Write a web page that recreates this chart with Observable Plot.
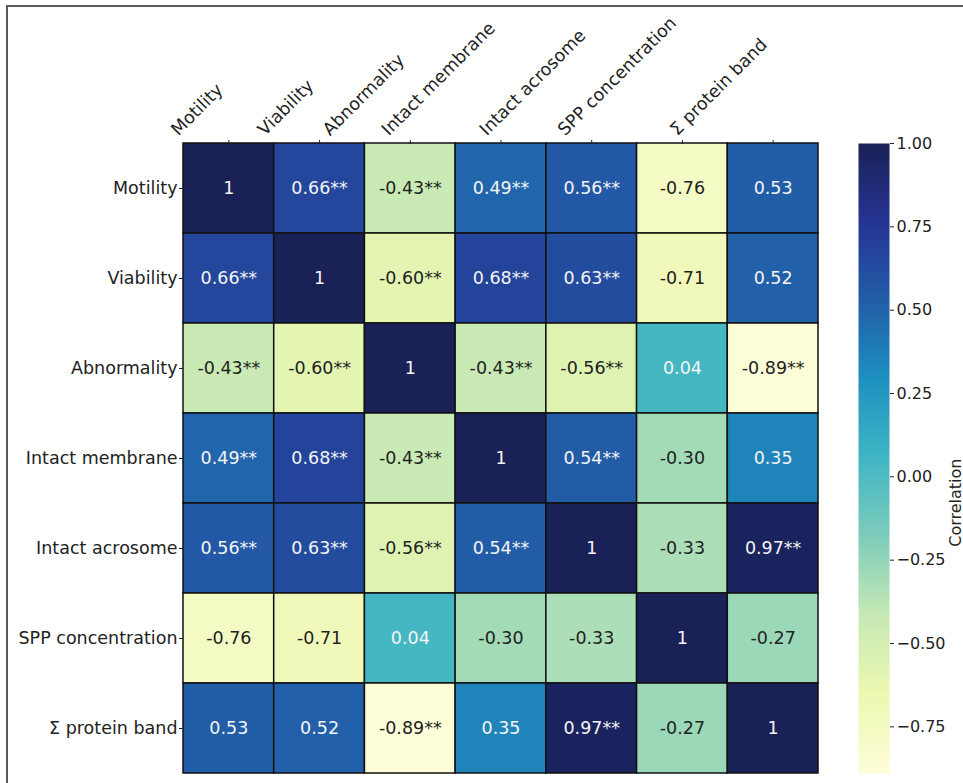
<!DOCTYPE html>
<html>
<head>
<meta charset="utf-8">
<script src="https://cdn.jsdelivr.net/npm/d3@7"></script>
<script src="https://cdn.jsdelivr.net/npm/@observablehq/plot@0.6"></script>
<style>
  html, body { margin: 0; padding: 0; background: #fff; overflow: hidden; }
  #wrap { position: relative; width: 963px; height: 783px; }
  #wrap svg { position: absolute; left: 0; top: 0; }
  #frame { position: absolute; left: 6px; top: 5px; width: 1200px; height: 1200px;
           border: 2px solid #5a5a5a; pointer-events: none; }
</style>
</head>
<body>
<div id="wrap"></div>
<script>
// Variables, in matrix order (rows top to bottom, columns left to right)
const variables = ["Motility", "Viability", "Abnormality", "Intact membrane",
                   "Intact acrosome", "SPP concentration", "Σ protein band"];

// Pearson correlation coefficients
const correlations = [
  [ 1.00,  0.66, -0.43,  0.49,  0.56, -0.76,  0.53],
  [ 0.66,  1.00, -0.60,  0.68,  0.63, -0.71,  0.52],
  [-0.43, -0.60,  1.00, -0.43, -0.56,  0.04, -0.89],
  [ 0.49,  0.68, -0.43,  1.00,  0.54, -0.30,  0.35],
  [ 0.56,  0.63, -0.56,  0.54,  1.00, -0.33,  0.97],
  [-0.76, -0.71,  0.04, -0.30, -0.33,  1.00, -0.27],
  [ 0.53,  0.52, -0.89,  0.35,  0.97, -0.27,  1.00]
];

// Significance markers
const significance = [
  ["",   "**", "**", "**", "**", "",   ""  ],
  ["**", "",   "**", "**", "**", "",   ""  ],
  ["**", "**", "",   "**", "**", "",   "**"],
  ["**", "**", "**", "",   "**", "",   ""  ],
  ["**", "**", "**", "**", "",   "",   "**"],
  ["",   "",   "",   "",   "",   "",   ""  ],
  ["",   "",   "**", "",   "**", "",   ""  ]
];

// Colour bar ticks and value range
const colorbarTicks = [-0.75, -0.5, -0.25, 0, 0.25, 0.5, 0.75, 1];
const vmin = -0.89, vmax = 1;

// YlGnBu stops, interpolated linearly across the value range
const ylgnbu = ["#fdfdd8", "#edf8b1", "#c7e9b4", "#7fcdbb", "#41b6c4",
                "#1d91c0", "#225ea8", "#253494", "#1a2156"];
const colorScale = {
  type: "linear",
  domain: ylgnbu.map((_, i) => vmin + (i * (vmax - vmin)) / (ylgnbu.length - 1)),
  range: ylgnbu,
  interpolate: "rgb"
};

const cells = variables.flatMap((row, i) =>
  variables.map((col, j) => ({row, col, v: correlations[i][j], sig: significance[i][j]}))
);
const fmt = v => (v === 1 ? "1" : v.toFixed(2));

const font = "DejaVu Sans";
const ctx = document.createElement("canvas").getContext("2d");
ctx.font = `17.5px '${font}'`;
const textWidth = s => ctx.measureText(s).width;

const svgStyle = {background: "transparent", fontFamily: font, color: "#222", overflow: "visible"};

// Heatmap
const heatmap = Plot.plot({
  width: 963, height: 783,
  marginLeft: 183, marginRight: 145, marginTop: 143, marginBottom: 10,
  x: {type: "band", domain: variables, padding: 0, round: false},
  y: {type: "band", domain: variables, padding: 0, round: false},
  color: colorScale,
  style: svgStyle,
  marks: [
    Plot.cell(cells, {x: "col", y: "row", fill: "v", stroke: "#111", strokeWidth: 1.5}),
    Plot.text(cells.filter(d => d.v >= 0), {
      x: "col", y: "row", text: d => fmt(d.v) + d.sig, fill: "#f4f4f4", fontSize: 17.5
    }),
    Plot.text(cells.filter(d => d.v < 0), {
      x: "col", y: "row", text: d => fmt(d.v) + d.sig, fill: "#222", fontSize: 17.5
    }),
    Plot.axisY({anchor: "left", tickSize: 4, tickPadding: 2, fontSize: 17.5, label: null}),
    Plot.axisX({anchor: "top", tickSize: 4, tickFormat: () => "", label: null}),
    // slanted column labels, right end of each label set just left of its column centre
    ...variables.map(name => Plot.text([name], {
      x: d => d, text: d => d, frameAnchor: "top",
      rotate: -45, textAnchor: "end", lineAnchor: "bottom",
      dx: -5, dy: -7 - textWidth(name) * Math.SQRT1_2,
      fontSize: 17.5, fill: "#222"
    }))
  ]
});

// Colour bar
const colorbar = Plot.plot({
  width: 963, height: 783,
  marginLeft: 858, marginRight: 74, marginTop: 143, marginBottom: 10,
  x: {domain: [0, 1], axis: null},
  y: {domain: [vmin, vmax]},
  color: colorScale,
  style: svgStyle,
  marks: [
    Plot.raster({fill: (x, y) => y, x1: 0, x2: 1, y1: vmin, y2: vmax, width: 2, height: 630}),
    Plot.axisY({anchor: "right", ticks: colorbarTicks, tickFormat: d3.format(".2f"),
                tickSize: 4, tickPadding: 3, fontSize: 16, label: null}),
    Plot.text(["Correlation"], {text: d => d, frameAnchor: "right", rotate: -90, dx: 66,
                                fontSize: 16, fill: "#222"})
  ]
});

const wrap = document.getElementById("wrap");
wrap.append(heatmap, colorbar);
const frame = document.createElement("div");
frame.id = "frame";
wrap.append(frame);
</script>
</body>
</html>
